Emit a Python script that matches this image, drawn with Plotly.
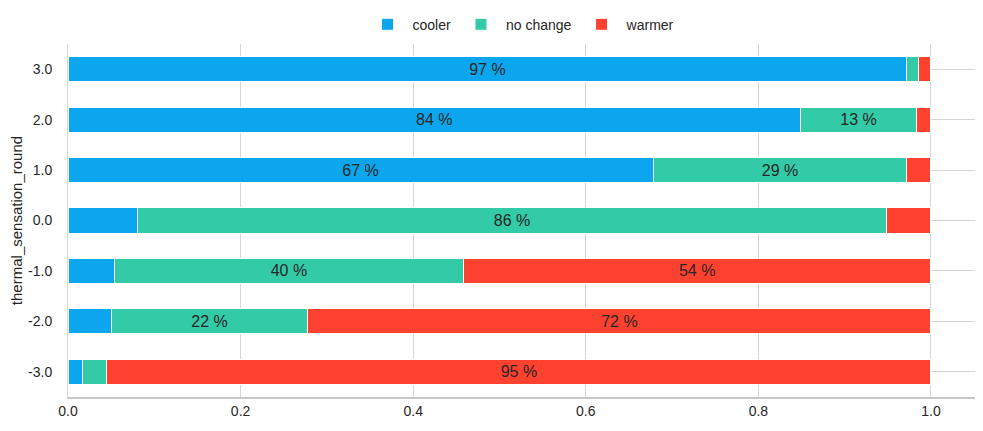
import math
import plotly.graph_objects as go

categories = ["-3.0", "-2.0", "-1.0", "0.0", "1.0", "2.0", "3.0"]
cooler = [0.017, 0.050, 0.054, 0.081, 0.678, 0.849, 0.972]
no_change = [0.028, 0.228, 0.404, 0.867, 0.294, 0.134, 0.013]
warmer = [0.955, 0.722, 0.542, 0.052, 0.028, 0.017, 0.015]

series = [("cooler", cooler, "#0ba6ed"), ("no change", no_change, "#33caa7"), ("warmer", warmer, "#ff412f")]

fig = go.Figure()
ypos = list(range(len(categories)))
for name, vals, color in series:
    texts = [f"{math.floor(v * 100)} %" if v >= 0.1 else "" for v in vals]
    fig.add_trace(go.Bar(
        y=ypos, x=vals, name=name, orientation="h",
        marker=dict(color=color, line=dict(color="white", width=1)),
        width=0.5, text=texts, textposition="inside", insidetextanchor="middle",
        textangle=0, textfont=dict(size=16, color="#262626", family="Liberation Sans, Arial"),
        hoverinfo="skip",
    ))

fig.update_layout(
    barmode="stack",
    width=975, height=423,
    margin=dict(l=60, r=8, t=36, b=34, autoexpand=False),
    plot_bgcolor="white", paper_bgcolor="white",
    font=dict(family="Liberation Sans, Arial", size=14, color="#262626"),
    legend=dict(orientation="h", x=0.5, xanchor="center", y=1.1, yanchor="top",
                font=dict(size=14), traceorder="normal", itemwidth=40),
)
fig.update_xaxes(
    range=[0, 1.051], tickvals=[0, 0.2, 0.4, 0.6, 0.8, 1.0],
    ticktext=["0.0", "0.2", "0.4", "0.6", "0.8", "1.0"],
    showgrid=True, gridcolor="#d6d6d6", gridwidth=1, zeroline=False,
    showline=True, linecolor="#c8c8c8", linewidth=1.5, ticks="", ticklabelstandoff=0,
    tickfont=dict(size=14), automargin=False,
)
fig.update_yaxes(
    range=[-0.5, len(categories) - 0.5], tickvals=ypos, ticktext=categories,
    showgrid=True, gridcolor="#d6d6d6", gridwidth=1, zeroline=False,
    showline=True, linecolor="#d6d6d6", linewidth=1, ticks="", ticklabelstandoff=12,
    title=dict(text="thermal_sensation_round", font=dict(size=15), standoff=8),
    tickfont=dict(size=14), automargin=False,
)

fig.write_html("out.html")
